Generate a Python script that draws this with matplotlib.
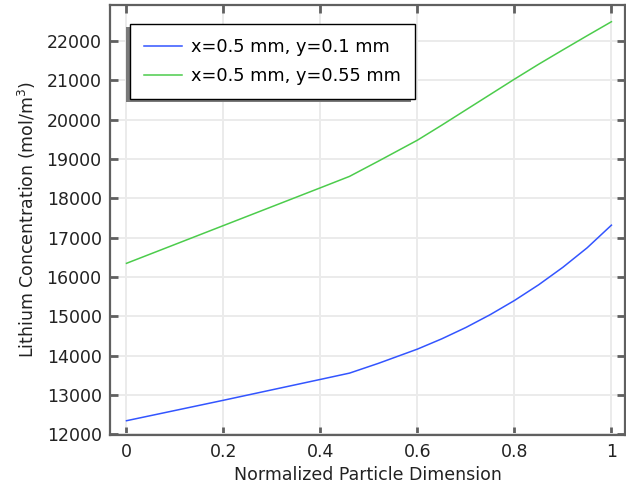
import matplotlib
matplotlib.use("Agg")
import matplotlib.pyplot as plt
from matplotlib.patches import Rectangle

# Concentration profiles along the normalized particle dimension
pos_blue = [0.0, 0.2, 0.4, 0.46, 0.52, 0.6, 0.65, 0.7, 0.75, 0.8, 0.85, 0.9, 0.95, 1.0]
conc_blue = [12350, 12870, 13400, 13560, 13810, 14170, 14430, 14720, 15045, 15405,
             15805, 16250, 16745, 17320]

pos_green = [0.0, 0.2, 0.4, 0.46, 0.52, 0.6, 0.65, 0.7, 0.75, 0.8, 0.85, 0.9, 0.95, 1.0]
conc_green = [16350, 17310, 18270, 18560, 18950, 19480, 19860, 20250, 20640, 21030,
              21410, 21775, 22135, 22490]

labels = ["x=0.5 mm, y=0.1 mm", "x=0.5 mm, y=0.55 mm"]
xticks = [0, 0.2, 0.4, 0.6, 0.8, 1]
xticklabels = ["0", "0.2", "0.4", "0.6", "0.8", "1"]
yticks = list(range(12000, 22001, 1000))

FS = 12.5
plt.rcParams["font.family"] = "DejaVu Sans"

fig = plt.figure(figsize=(6.26, 4.96), dpi=100)
ax = fig.add_axes([110 / 626, 1 - 435 / 496, 515 / 626, 430 / 496])

ax.plot(pos_blue, conc_blue, color="#3355ff", lw=1.1, label=labels[0])
ax.plot(pos_green, conc_green, color="#4ccc4c", lw=1.1, label=labels[1])

ax.set_xlim(-0.034, 1.028)
ax.set_ylim(11987, 22915)
ax.set_xticks(xticks)
ax.set_xticklabels(xticklabels)
ax.set_yticks(yticks)

ax.grid(True, color="#ebebeb", lw=1.4)
ax.set_axisbelow(True)
for s in ax.spines.values():
    s.set_color("#606060")
    s.set_linewidth(1.6)
ax.tick_params(direction="in", length=6, width=2, color="#606060",
               labelsize=FS, labelcolor="#222222",
               top=True, right=True, pad=6)

ax.set_xlabel("Normalized Particle Dimension", fontsize=FS, color="#222222", labelpad=3)
ax.set_ylabel("Lithium Concentration (mol/m$^3$)", fontsize=FS, color="#222222", labelpad=6)

leg = ax.legend(loc="upper left", bbox_to_anchor=(20 / 515, 1 - 19 / 430),
                borderaxespad=0, fancybox=False, framealpha=1, edgecolor="black",
                fontsize=12.8, handlelength=2.1, handletextpad=0.55,
                labelspacing=0.6, borderpad=0.8)
leg.get_frame().set_linewidth(1.0)
leg.set_zorder(5)

# Drop shadow behind the legend box
fig.canvas.draw()
bb = leg.get_window_extent()
inv = ax.transAxes.inverted()
(x0, y0) = inv.transform((bb.x0 - 4, bb.y0 - 3))
(x1, y1) = inv.transform((bb.x1 - 4, bb.y1 - 3))
ax.add_patch(Rectangle((x0, y0), x1 - x0, y1 - y0, transform=ax.transAxes,
                       facecolor="#7a7a7a", edgecolor="none", zorder=4.9, clip_on=False))

fig.savefig("out.png", dpi=100)
